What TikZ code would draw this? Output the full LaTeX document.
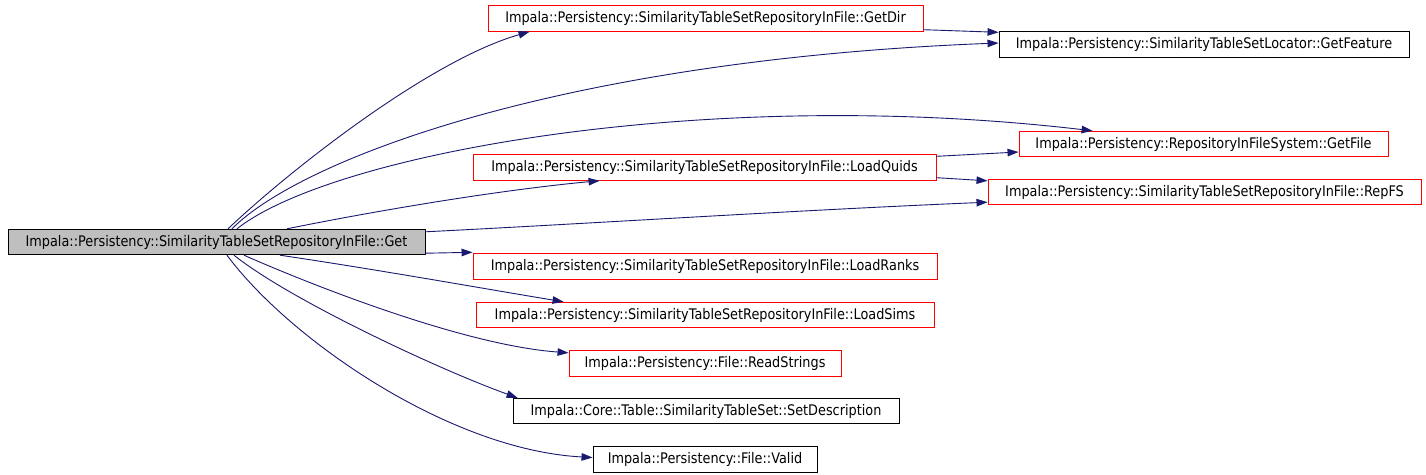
\documentclass[tikz,border=0pt]{standalone}
\usepackage{fontspec}
\setmainfont{DejaVu Sans}[FakeStretch=0.88]
\usetikzlibrary{arrows.meta,calc}
\definecolor{edgeblue}{HTML}{191970}
\definecolor{boxred}{HTML}{FF0000}
\definecolor{boxgray}{HTML}{BFBFBF}
\tikzset{
  fn/.style={draw=black, line width=0.9pt, inner sep=0pt, minimum height=25.5pt,
    font=\fontsize{14.6}{17}\selectfont, text=black},
  fnred/.style={fn, draw=boxred},
  fnroot/.style={fn, fill=boxgray},
  call/.style={draw=edgeblue, line width=0.9pt, -{Triangle[length=11pt,width=7.5pt]}, edgeblue}
}
\begin{document}
\begin{tikzpicture}[x=1pt,y=-1pt]
\useasboundingbox[fill=white] (0,0) rectangle (1426,474);
\node[fnroot, minimum width=417pt] (Get) at (216.5,242) {Impala::Persistency::SimilarityTableSetRepositoryInFile::Get};
\node[fnred, minimum width=435pt] (GetDir) at (705.5,18.5) {Impala::Persistency::SimilarityTableSetRepositoryInFile::GetDir};
\node[fn, minimum width=410pt] (GetFeature) at (1204,44.5) {Impala::Persistency::SimilarityTableSetLocator::GetFeature};
\node[fnred, minimum width=369pt] (GetFile) at (1203.5,144) {Impala::Persistency::RepositoryInFileSystem::GetFile};
\node[fnred, minimum width=463pt] (LoadQuids) at (704.5,167.5) {Impala::Persistency::SimilarityTableSetRepositoryInFile::LoadQuids};
\node[fnred, minimum width=433pt] (RepFS) at (1204.5,192) {Impala::Persistency::SimilarityTableSetRepositoryInFile::RepFS};
\node[fnred, minimum width=464pt] (LoadRanks) at (705,266.5) {Impala::Persistency::SimilarityTableSetRepositoryInFile::LoadRanks};
\node[fnred, minimum width=458pt] (LoadSims) at (705,315) {Impala::Persistency::SimilarityTableSetRepositoryInFile::LoadSims};
\node[fnred, minimum width=272pt] (ReadStrings) at (705,363.5) {Impala::Persistency::File::ReadStrings};
\node[fn, minimum width=386pt] (SetDesc) at (706,411) {Impala::Core::Table::SimilarityTableSet::SetDescription};
\node[fn, minimum width=224pt] (Valid) at (705,459.5) {Impala::Persistency::File::Valid};

% edges from Get
\draw[call] ($(Get.north)+(11.5,0)$) .. controls (290,170) and (430,60) .. ($(GetDir.south west)+(42,0)$);
\draw[call] ($(Get.north)+(15.5,0)$) .. controls (300,160) and (560,60) .. ($(GetFeature.west)+(0,-1.5)$);
\draw[call] ($(Get.north)+(20.5,0)$) .. controls (330,155) and (700,85) .. ($(GetFile.north west)+(74,0)$);
\draw[call] ($(Get.north)+(70.5,0)$) .. controls (380,210) and (500,190) .. ($(LoadQuids.south west)+(127,0)$);
\draw[call] ($(Get.north east)+(0,3)$) .. controls (600,223) and (800,210) .. ($(RepFS.south west)+(0,-3)$);
\draw[call] ($(Get.south east)+(0,-2)$) -- ($(LoadRanks.north west)+(0,-1)$);
\draw[call] ($(Get.south)+(63.5,0)$) .. controls (380,270) and (480,288) .. ($(LoadSims.north west)+(88,0)$);
\draw[call] ($(Get.south)+(27.5,0)$) .. controls (300,280) and (460,345) .. ($(ReadStrings.north west)+(0,2.5)$);
\draw[call] ($(Get.south)+(17.5,0)$) .. controls (290,300) and (440,370) .. ($(SetDesc.north west)+(5,0)$);
\draw[call] ($(Get.south)+(10.5,0)$) .. controls (290,340) and (450,450) .. ($(Valid.west)+(0,-2)$);

% secondary edges
\draw[call] ($(GetDir.south east)+(0,-2)$) -- ($(GetFeature.north west)+(0,1)$);
\draw[call] ($(LoadQuids.north east)+(0,2)$) -- ($(GetFile.west)+(0,8)$);
\draw[call] ($(LoadQuids.south east)+(0,-3)$) -- ($(RepFS.north west)+(0,2)$);
\end{tikzpicture}
\end{document}
